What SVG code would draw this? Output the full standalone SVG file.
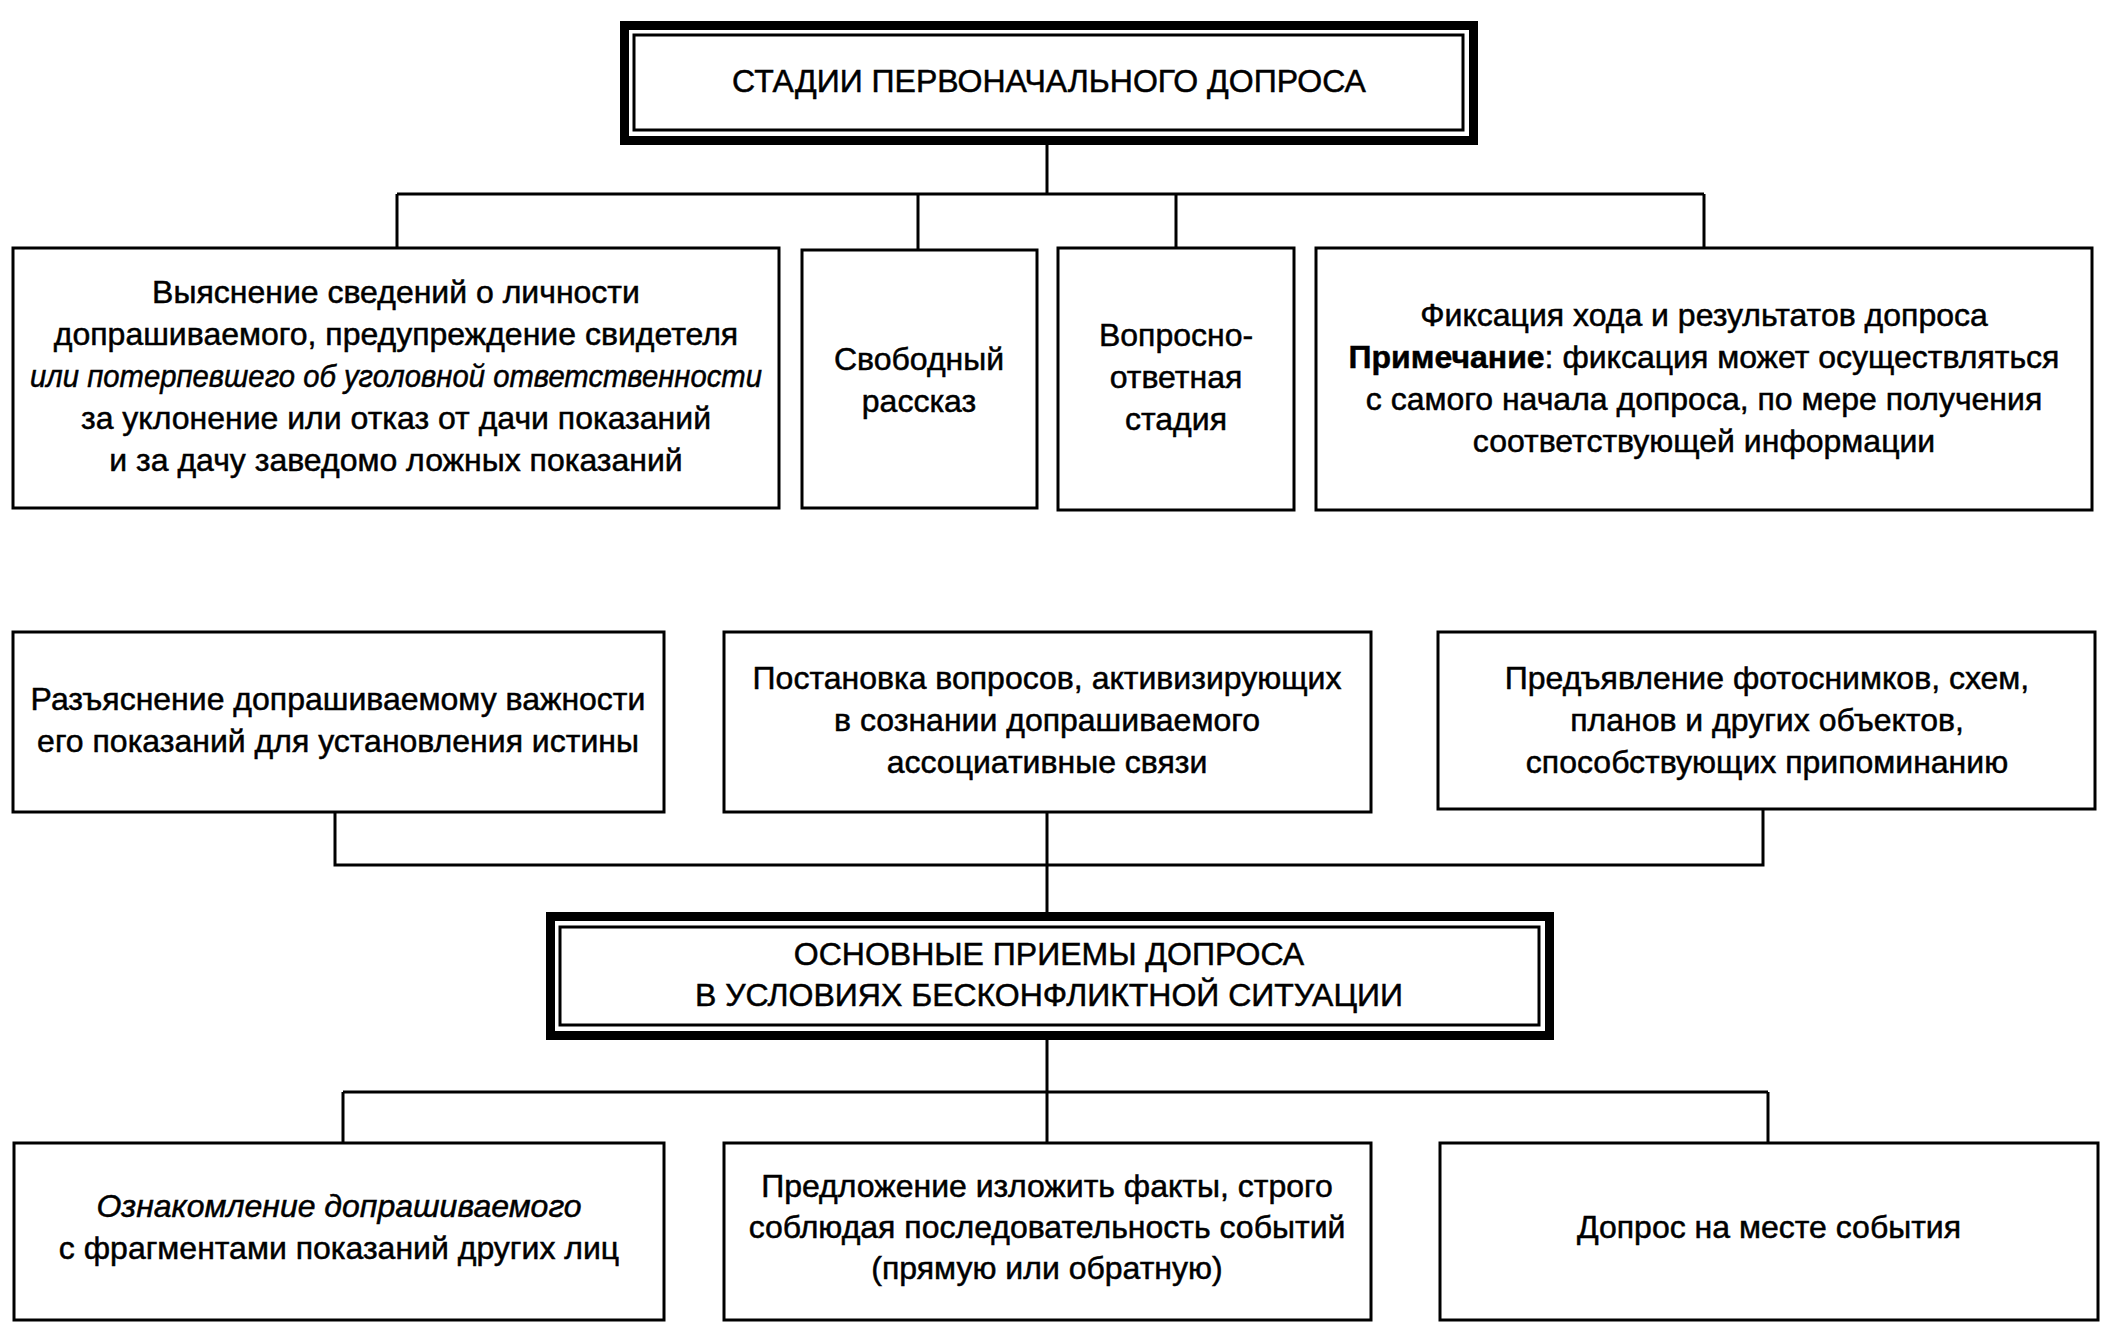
<svg xmlns="http://www.w3.org/2000/svg" width="2102" height="1333" viewBox="0 0 2102 1333">
<style>
.box{fill:#fff;stroke:#000;stroke-width:3}
.outer{fill:none;stroke:#000;stroke-width:9}
.inner{fill:#fff;stroke:#000;stroke-width:3}
.ln{fill:none;stroke:#000;stroke-width:3}
text{font-family:"Liberation Sans",Arial,sans-serif;font-size:32px;fill:#000;stroke:#000;stroke-width:0.5;text-anchor:middle}
.it{font-style:italic}
.b{font-weight:bold}
</style>
<rect width="2102" height="1333" fill="#fff"/>
<g id="connectors">
<path class="ln" d="M1047 145V194M397 194H1704M397 194V248M918 194V250M1176 194V248M1704 194V248"/>
<path class="ln" d="M335 812V865H1763V809M1047 812V912"/>
<path class="ln" d="M1047 1040V1092M343 1092H1768M343 1092V1143M1047 1092V1143M1768 1092V1143"/>
</g>
<g id="title1">
<rect class="outer" x="624.5" y="25.5" width="849" height="115"/>
<rect class="inner" x="634" y="35" width="829" height="95"/>
<text x="1049" y="92">СТАДИИ ПЕРВОНАЧАЛЬНОГО ДОПРОСА</text>
</g>
<g id="n1">
<rect class="box" x="13" y="248" width="766" height="260"/>
<text x="396" y="303">Выяснение сведений о личности</text>
<text x="396" y="345">допрашиваемого, предупреждение свидетеля</text>
<text x="396" y="387" class="it" textLength="732" lengthAdjust="spacingAndGlyphs">или потерпевшего об уголовной ответственности</text>
<text x="396" y="429">за уклонение или отказ от дачи показаний</text>
<text x="396" y="471">и за дачу заведомо ложных показаний</text>
</g>
<g id="n2">
<rect class="box" x="802" y="250" width="235" height="258"/>
<text x="919" y="370">Свободный</text>
<text x="919" y="412">рассказ</text>
</g>
<g id="n3">
<rect class="box" x="1058" y="248" width="236" height="262"/>
<text x="1176" y="346">Вопросно-</text>
<text x="1176" y="388">ответная</text>
<text x="1176" y="430">стадия</text>
</g>
<g id="n4">
<rect class="box" x="1316" y="248" width="776" height="262"/>
<text x="1704" y="326">Фиксация хода и результатов допроса</text>
<text x="1704" y="368"><tspan class="b">Примечание</tspan>: фиксация может осуществляться</text>
<text x="1704" y="410">с самого начала допроса, по мере получения</text>
<text x="1704" y="452">соответствующей информации</text>
</g>
<g id="n5">
<rect class="box" x="13" y="632" width="651" height="180"/>
<text x="338" y="710">Разъяснение допрашиваемому важности</text>
<text x="338" y="752">его показаний для установления истины</text>
</g>
<g id="n6">
<rect class="box" x="724" y="632" width="647" height="180"/>
<text x="1047" y="689">Постановка вопросов, активизирующих</text>
<text x="1047" y="731">в сознании допрашиваемого</text>
<text x="1047" y="773">ассоциативные связи</text>
</g>
<g id="n7">
<rect class="box" x="1438" y="632" width="657" height="177"/>
<text x="1767" y="689">Предъявление фотоснимков, схем,</text>
<text x="1767" y="731">планов и других объектов,</text>
<text x="1767" y="773">способствующих припоминанию</text>
</g>
<g id="title2">
<rect class="outer" x="550.5" y="916.5" width="999" height="119"/>
<rect class="inner" x="560" y="927" width="979" height="98"/>
<text x="1049" y="965">ОСНОВНЫЕ ПРИЕМЫ ДОПРОСА</text>
<text x="1049" y="1006">В УСЛОВИЯХ БЕСКОНФЛИКТНОЙ СИТУАЦИИ</text>
</g>
<g id="n8">
<rect class="box" x="14" y="1143" width="650" height="177"/>
<text x="339" y="1217" class="it">Ознакомление допрашиваемого</text>
<text x="339" y="1259">с фрагментами показаний других лиц</text>
</g>
<g id="n9">
<rect class="box" x="724" y="1143" width="647" height="177"/>
<text x="1047" y="1197">Предложение изложить факты, строго</text>
<text x="1047" y="1238">соблюдая последовательность событий</text>
<text x="1047" y="1279">(прямую или обратную)</text>
</g>
<g id="n10">
<rect class="box" x="1440" y="1143" width="658" height="177"/>
<text x="1769" y="1238">Допрос на месте события</text>
</g>
</svg>
